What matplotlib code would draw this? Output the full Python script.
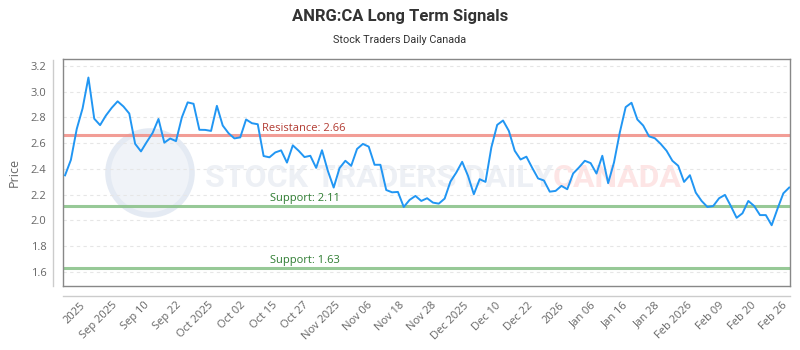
import numpy as np
import matplotlib
matplotlib.use("Agg")
import matplotlib.pyplot as plt
from matplotlib.lines import Line2D
from matplotlib.patches import Ellipse

title = "ANRG:CA Long Term Signals"
subtitle = "Stock Traders Daily Canada"

prices = [
    2.35, 2.47, 2.71, 2.87, 3.11, 2.79, 2.74, 2.815, 2.875, 2.925,
    2.885, 2.83, 2.595, 2.536, 2.61, 2.68, 2.788, 2.604, 2.636, 2.616,
    2.80, 2.917, 2.906, 2.704, 2.703, 2.695, 2.89, 2.737, 2.677, 2.637,
    2.645, 2.784, 2.755, 2.747, 2.50, 2.49, 2.528, 2.544, 2.449, 2.583,
    2.541, 2.492, 2.502, 2.408, 2.545, 2.385, 2.255, 2.406, 2.463, 2.424,
    2.555, 2.594, 2.573, 2.432, 2.432, 2.236, 2.218, 2.221, 2.104, 2.159,
    2.19, 2.151, 2.172, 2.138, 2.13, 2.169, 2.302, 2.372, 2.455, 2.346,
    2.203, 2.32, 2.299, 2.567, 2.742, 2.776, 2.695, 2.541, 2.473, 2.495,
    2.408, 2.326, 2.31, 2.223, 2.229, 2.268, 2.242, 2.364, 2.411, 2.463,
    2.445, 2.364, 2.502, 2.289, 2.45, 2.684, 2.88, 2.914, 2.784, 2.737,
    2.653, 2.638, 2.594, 2.541, 2.463, 2.424, 2.299, 2.351, 2.216, 2.151,
    2.104, 2.112, 2.172, 2.198, 2.112, 2.02, 2.055, 2.151, 2.112, 2.041,
    2.041, 1.962, 2.09, 2.21, 2.255,
]

tick_labels = ["2025", "Sep 2025", "Sep 10", "Sep 22", "Oct 2025", "Oct 02",
               "Oct 15", "Oct 27", "Nov 2025", "Nov 06", "Nov 18", "Nov 28",
               "Dec 2025", "Dec 10", "Dec 22", "2026", "Jan 06", "Jan 16",
               "Jan 28", "Feb 2026", "Feb 09", "Feb 20", "Feb 26"]
first_tick_idx = 2.57
last_tick_idx = 122.8

resistance_levels = [2.66]
support_levels = [2.11, 1.63]
y_ticks = [1.6, 1.8, 2.0, 2.2, 2.4, 2.6, 2.8, 3.0, 3.2]

plt.rcParams['font.family'] = ['Open Sans', 'DejaVu Sans']

W, H = 800, 350
ax_left, ax_right, ax_top, ax_bottom = 63.3, 790, 59, 286
fig = plt.figure(figsize=(8, 3.5), dpi=100)
ax = fig.add_axes([ax_left / W, 1 - ax_bottom / H, (ax_right - ax_left) / W, (ax_bottom - ax_top) / H])
ax_w_px = ax_right - ax_left
ax_h_px = ax_bottom - ax_top

x = np.arange(len(prices))

# watermark (logo circle + text)
r_px = 42
ax.add_patch(Ellipse(((150 - ax_left) / ax_w_px, (ax_bottom - 173) / ax_h_px),
                     2 * r_px / ax_w_px, 2 * r_px / ax_h_px, transform=ax.transAxes,
                     facecolor="#f0f3f8", edgecolor="#e4eaf3", lw=4, zorder=0))
ax.text((205 - ax_left) / ax_w_px, (ax_bottom - 178) / ax_h_px, "STOCK TRADERS DAILY",
        transform=ax.transAxes, fontsize=23, fontweight="bold", color="#edf0f5",
        va="center", ha="left", zorder=0, family=["Roboto", "DejaVu Sans"])
ax.text((553 - ax_left) / ax_w_px, (ax_bottom - 178) / ax_h_px, "CANADA",
        transform=ax.transAxes, fontsize=23, fontweight="bold", color="#fde5e5",
        va="center", ha="left", zorder=0, family=["Roboto", "DejaVu Sans"])

for yv in y_ticks:
    ax.axhline(yv, color="#e6e6e6", lw=0.8, ls=(0, (3, 3)), zorder=1)

for r in resistance_levels:
    ax.axhline(r, color="#f08c84", lw=2.2, alpha=0.85, zorder=2)
    ax.text(33.7, r + 0.015, f"Resistance: {r:.2f}", color="#b23b32", fontsize=8,
            va="bottom", ha="left", zorder=4)
for s in support_levels:
    ax.axhline(s, color="#8cc38c", lw=2.2, alpha=0.9, zorder=2)
    ax.text(35.1, s + 0.015, f"Support: {s:.2f}", color="#2f7d32", fontsize=8,
            va="bottom", ha="left", zorder=4)

ax.plot(x, prices, color="#2196f3", lw=1.4, zorder=3)

ax.set_xlim(-0.3, len(prices) - 1 + 0.14)
ax.set_ylim(1.49, 3.254)

ax.set_yticks(y_ticks)
ax.set_yticklabels([f"{v:.1f}" for v in y_ticks])
ax.tick_params(axis="y", length=0, pad=12, labelsize=8, labelcolor="#666666")

tick_pos = np.linspace(first_tick_idx, last_tick_idx, len(tick_labels))
ax.set_xticks(tick_pos)
ax.set_xticklabels(tick_labels, rotation=45, ha="right", rotation_mode="anchor")
ax.tick_params(axis="x", length=0, pad=10, labelsize=8, labelcolor="#666666")

for sp in ax.spines.values():
    sp.set_color("#888888")
    sp.set_linewidth(1)

ax.set_ylabel("Price", fontsize=9, color="#666666", labelpad=7)

# detached axis lines
fig.add_artist(Line2D([53.3 / W, 53.3 / W], [1 - 60 / H, 1 - 286 / H],
                      transform=fig.transFigure, color="#cccccc", lw=1))
fig.add_artist(Line2D([ax_left / W, ax_right / W], [1 - 296 / H, 1 - 296 / H],
                      transform=fig.transFigure, color="#cccccc", lw=1))

fig.text(0.5, 1 - 16 / H, title, ha="center", va="center", fontsize=12,
         fontweight="bold", color="#333333", family=["Roboto", "DejaVu Sans"])
fig.text(0.5, 1 - 40 / H, subtitle, ha="center", va="center", fontsize=7.8,
         color="#333333", family=["Roboto", "DejaVu Sans"])

fig.savefig("out.png", dpi=100, facecolor="white")
